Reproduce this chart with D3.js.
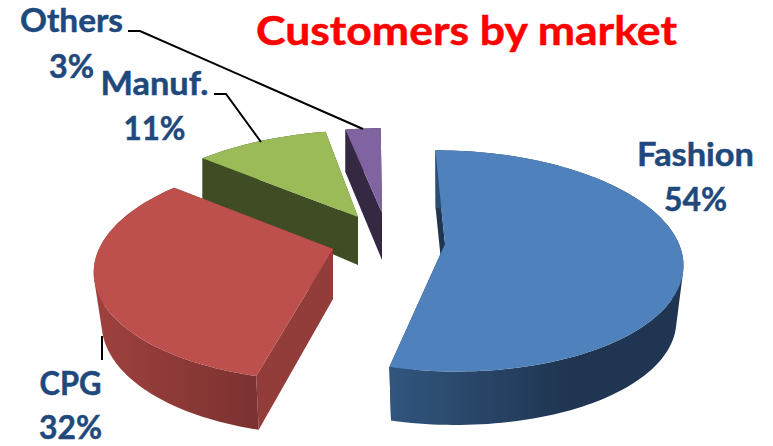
<!DOCTYPE html>
<html>
<head>
<meta charset="utf-8">
<script src="https://cdn.jsdelivr.net/npm/d3@7/dist/d3.min.js"></script>
<style>
  html, body { margin: 0; padding: 0; background: #fff; }
  svg { display: block; }
  text { font-family: Lato, "Open Sans", sans-serif; font-weight: 700; }
</style>
</head>
<body>
<svg id="chart" width="773" height="446"></svg>
<script>
// Chart content
const titleText = "Customers by market";
const markets = ["Fashion", "CPG", "Manuf.", "Others"];
const shares = [54, 32, 11, 3];

// Slice colours: top face, cut face, rim gradient start and end
const topColors  = ["#4f81bd", "#bd4f4c", "#9bbb59", "#8064a2"];
const cutColors  = ["#1f3551", "#923d3a", "#404d24", "#352843"];
const rimColors0 = ["#31557e", "#9e413e", "#404d24", "#352843"];
const rimColors1 = ["#1f3551", "#7a3130", "#404d24", "#352843"];

// Slice geometry: tip of the wedge, perspective strength, vertical radius,
// horizontal lean, wall height and how the lower face scales
const radius = 234;
const sliceLayout = [
  { ax: 445, ay: 244, k: 0.153, b: 108, lean: -9.5, drop: 56, mx: 0.97,  my: 0.98, gx0: 391, gx1: 570 },
  { ax: 333, ay: 249, k: 0.18,  b: 108, lean: 7,    drop: 50, mx: 0.967, my: 1.03, gx0: 100, gx1: 260 },
  { ax: 358, ay: 217, k: 0.225, b: 106, lean: 6,    drop: 48, mx: 1,     my: 1.13, gx0: 200, gx1: 360 },
  { ax: 382, ay: 213, k: 0.25,  b: 106, lean: 0,    drop: 47, mx: 1,     my: 1.05, gx0: 340, gx1: 385 }
];

// Label placement: centre x, baselines and fitted widths of the two lines
const labelLayout = [
  { x: 695.5, y1: 166, y2: 211, w1: 117, w2: 63 },
  { x: 70.5,  y1: 395, y2: 439, w1: 62,  w2: 63 },
  { x: 154.5, y1: 95,  y2: 140, w1: 108, w2: 62 },
  { x: 71.5,  y1: 32,  y2: 78,  w1: 103, w2: 45 }
];

// Leader lines running from the labels to the slices
const leaders = [
  [[102, 336], [102, 360]],
  [[214, 94], [226, 94], [261, 142]],
  [[128, 31], [140, 31], [363, 129]]
];

const svg = d3.select("#chart");
const defs = svg.append("defs");
const toRad = Math.PI / 180;

const pie = d3.pie().sort(null).startAngle(-0.4 * toRad).endAngle(359.6 * toRad);
const arcs = pie(shares);

// Projects a polar position on the tilted disc to the page
function topPoint(s, angle, r) {
  const X = r * Math.sin(angle) * radius;
  const Y = r * Math.cos(angle);
  const w = 1 + s.k * Y;
  return [s.ax + X / w + s.lean * Y / w, s.ay - s.b * Y / w];
}

// Same position on the lower face of the slab
function bottomPoint(s, angle, r) {
  const [x, y] = topPoint(s, angle, r);
  return [s.ax + (x - s.ax) * s.mx, s.ay + s.drop + (y - s.ay) * s.my];
}

function rimAngles(a0, a1) {
  const n = Math.max(4, Math.ceil(Math.abs(a1 - a0) / (toRad * 1.5)));
  return d3.range(n + 1).map(i => a0 + (a1 - a0) * i / n);
}

const line = d3.line();
const closed = pts => line(pts) + "Z";

// Outer wall as one path of small quads, all wound the same way, so their union fills
// right out to the straight silhouette between the upper and lower rims
function wallPath(s, angles) {
  return d3.pairs(angles).map(([a, b]) => {
    const quad = [topPoint(s, a, 1), topPoint(s, b, 1), bottomPoint(s, b, 1), bottomPoint(s, a, 1)];
    return closed(d3.polygonArea(quad) < 0 ? quad.reverse() : quad);
  }).join("");
}

// Far slices first so the near ones overlap them
const drawOrder = [3, 2, 0, 1];

const slices = svg.append("g").attr("class", "slices");

drawOrder.forEach(i => {
  const s = sliceLayout[i];
  const a = arcs[i];
  const g = slices.append("g").attr("class", "slice-" + i);

  const gradId = "rim-" + i;
  const grad = defs.append("linearGradient")
    .attr("id", gradId)
    .attr("gradientUnits", "userSpaceOnUse")
    .attr("x1", s.gx0).attr("x2", s.gx1).attr("y1", 0).attr("y2", 0);
  grad.append("stop").attr("offset", 0).attr("stop-color", rimColors0[i]);
  grad.append("stop").attr("offset", 1).attr("stop-color", rimColors1[i]);

  // Flat cut faces along the two radial edges
  [a.startAngle, a.endAngle].forEach(angle => {
    g.append("path")
      .attr("fill", cutColors[i])
      .attr("d", closed([
        topPoint(s, angle, 0), topPoint(s, angle, 1),
        bottomPoint(s, angle, 1), bottomPoint(s, angle, 0)
      ]));
  });

  // Curved outer wall
  const angles = rimAngles(a.startAngle, a.endAngle);
  g.append("path")
    .attr("fill", `url(#${gradId})`)
    .attr("d", wallPath(s, angles));

  // Top face
  g.append("path")
    .attr("fill", topColors[i])
    .attr("d", closed([topPoint(s, 0, 0)].concat(angles.map(t => topPoint(s, t, 1)))));
});

// Leader lines
svg.append("g").attr("class", "leaders")
  .selectAll("path").data(leaders).join("path")
  .attr("d", d => line(d))
  .attr("fill", "none")
  .attr("stroke", "#000")
  .attr("stroke-width", 2);

// Market name and share labels
const labels = svg.append("g").attr("class", "labels")
  .selectAll("g").data(markets).join("g")
  .attr("fill", "#1f497d")
  .attr("stroke", "#1f497d")
  .attr("stroke-width", 0.5)
  .attr("font-size", 33)
  .attr("text-anchor", "middle");
labels.append("text")
  .attr("x", (d, i) => labelLayout[i].x)
  .attr("y", (d, i) => labelLayout[i].y1)
  .attr("textLength", (d, i) => labelLayout[i].w1)
  .attr("lengthAdjust", "spacingAndGlyphs")
  .text(d => d);
labels.append("text")
  .attr("x", (d, i) => labelLayout[i].x)
  .attr("y", (d, i) => labelLayout[i].y2)
  .attr("textLength", (d, i) => labelLayout[i].w2)
  .attr("lengthAdjust", "spacingAndGlyphs")
  .text((d, i) => shares[i] + "%");

// Title
svg.append("text")
  .attr("x", 466.5)
  .attr("y", 45)
  .attr("text-anchor", "middle")
  .attr("fill", "#ff0000")
  .attr("stroke", "#ff0000")
  .attr("stroke-width", 0.5)
  .attr("font-size", 41)
  .attr("textLength", 421)
  .attr("lengthAdjust", "spacingAndGlyphs")
  .text(titleText);
</script>
</body>
</html>
